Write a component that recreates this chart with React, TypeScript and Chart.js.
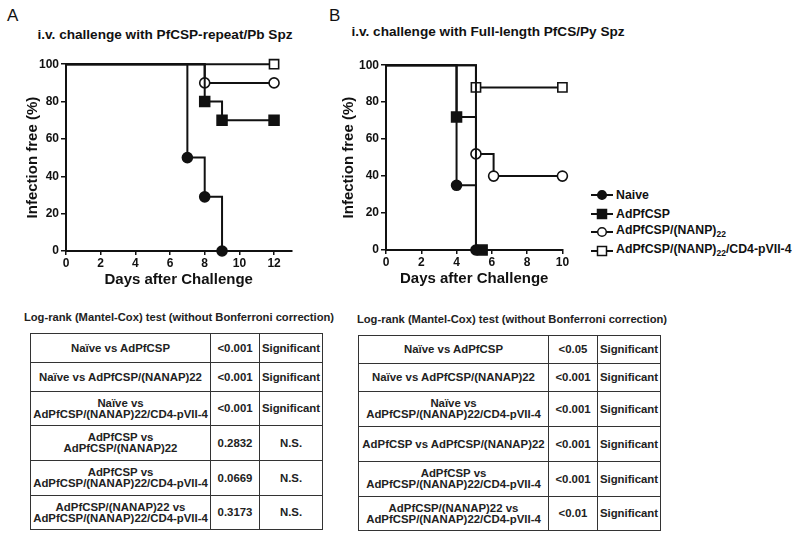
import React, { useEffect, useRef } from 'react';
import { Chart, registerables } from 'chart.js';

Chart.register(...registerables);

const FONT = '"Liberation Sans", Arial, Helvetica, sans-serif';
const INK = '#111';

// ---------- data ----------
const SERIES_NAMES = ['Naive', 'AdPfCSP', 'AdPfCSP/(NANP)22', 'AdPfCSP/(NANP)22/CD4-pVII-4'];
const Y_TICKS = [0, 20, 40, 60, 80, 100];

// Panel A: i.v. challenge with PfCSP-repeat/Pb Spz
const A_X_TICKS = [0, 2, 4, 6, 8, 10, 12];
const A_X_MAX = 13;
const A_NAIVE_X = [0, 7, 8, 9];
const A_NAIVE_Y = [100, 50, 29, 0];
const A_NAIVE_MARK = [0, 1, 1, 1];
const A_ADPFCSP_X = [0, 8, 9, 12];
const A_ADPFCSP_Y = [100, 80, 70, 70];
const A_ADPFCSP_MARK = [0, 1, 1, 1];
const A_NANP_X = [0, 8, 12];
const A_NANP_Y = [100, 90, 90];
const A_NANP_MARK = [0, 1, 1];
const A_CD4_X = [0, 12];
const A_CD4_Y = [100, 100];
const A_CD4_MARK = [0, 1];

// Panel B: i.v. challenge with Full-length PfCS/Py Spz
const B_X_TICKS = [0, 2, 4, 6, 8, 10];
const B_X_MAX = 10;
const B_NAIVE_X = [0, 4, 5.1];
const B_NAIVE_Y = [100, 35, 0];
const B_NAIVE_MARK = [0, 1, 1];
const B_ADPFCSP_X = [0, 4, 5.1, 5.45];
const B_ADPFCSP_Y = [100, 72, 0, 0];
const B_ADPFCSP_MARK = [0, 1, 0, 1];
const B_NANP_X = [0, 5.1, 6.1, 10];
const B_NANP_Y = [100, 52, 40, 40];
const B_NANP_MARK = [0, 1, 1, 1];
const B_CD4_X = [0, 5.1, 10];
const B_CD4_Y = [100, 88, 88];
const B_CD4_MARK = [0, 1, 1];

// Tables
const TABLE_CAPTION = 'Log-rank (Mantel-Cox) test (without Bonferroni correction)';
const A_COMPARISONS = [
  'Naïve vs AdPfCSP',
  'Naïve vs AdPfCSP/(NANAP)22',
  'Naïve vs\nAdPfCSP/(NANAP)22/CD4-pVII-4',
  'AdPfCSP vs\nAdPfCSP/(NANAP)22',
  'AdPfCSP vs\nAdPfCSP/(NANAP)22/CD4-pVII-4',
  'AdPfCSP/(NANAP)22  vs\nAdPfCSP/(NANAP)22/CD4-pVII-4',
];
const A_PVALUES = ['<0.001', '<0.001', '<0.001', '0.2832', '0.0669', '0.3173'];
const A_RESULTS = ['Significant', 'Significant', 'Significant', 'N.S.', 'N.S.', 'N.S.'];
const B_COMPARISONS = [
  'Naïve vs AdPfCSP',
  'Naïve vs AdPfCSP/(NANAP)22',
  'Naïve vs\nAdPfCSP/(NANAP)22/CD4-pVII-4',
  'AdPfCSP vs AdPfCSP/(NANAP)22',
  'AdPfCSP vs\nAdPfCSP/(NANAP)22/CD4-pVII-4',
  'AdPfCSP/(NANAP)22  vs\nAdPfCSP/(NANAP)22/CD4-pVII-4',
];
const B_PVALUES = ['<0.05', '<0.001', '<0.001', '<0.001', '<0.001', '<0.01'];
const B_RESULTS = ['Significant', 'Significant', 'Significant', 'Significant', 'Significant', 'Significant'];

// ---------- styles ----------
const STYLES = [
  { shape: 'circle', filled: true, r: 5 },
  { shape: 'rect', filled: true, r: 7 },
  { shape: 'circle', filled: false, r: 5 },
  { shape: 'rect', filled: false, r: 6.5 },
];

type Series = { x: number[]; y: number[]; mark: number[] };

function KMChart(props: {
  left: number; top: number; width: number; height: number;
  yAxisWidth: number; padRight: number; xMax: number; xTicks: number[]; series: Series[];
}) {
  const ref = useRef<HTMLCanvasElement>(null);
  useEffect(() => {
    const p = props;
    const datasets = p.series.map((s, i) => ({
      label: SERIES_NAMES[i],
      data: s.x.map((x, j) => ({ x, y: s.y[j] })),
      stepped: 'before' as const,
      borderColor: INK,
      borderWidth: 2,
      fill: false,
      pointStyle: STYLES[i].shape as any,
      pointRadius: s.mark.map((m) => (m ? STYLES[i].r : 0)),
      pointHoverRadius: s.mark.map((m) => (m ? STYLES[i].r : 0)),
      pointBackgroundColor: STYLES[i].filled ? INK : '#fff',
      pointBorderColor: INK,
      pointBorderWidth: 1.6,
      clip: false as any,
    }));
    const tickFont = { family: FONT, size: 12, weight: 'bold' as const };
    const titleFont = { family: FONT, size: 15, weight: 'bold' as const };
    const chart = new Chart(ref.current!, {
      type: 'line',
      data: { datasets },
      options: {
        animation: false,
        responsive: false,
        maintainAspectRatio: false,
        events: [],
        layout: { padding: { top: 5, right: p.padRight, left: 0, bottom: 0 } },
        plugins: { legend: { display: false }, tooltip: { enabled: false }, title: { display: false } },
        scales: {
          x: {
            type: 'linear',
            min: 0,
            max: p.xMax,
            afterBuildTicks: (s: any) => { s.ticks = p.xTicks.map((v) => ({ value: v })); },
            afterFit: (s: any) => { s.height = 38; },
            grid: { display: true, drawOnChartArea: false, drawTicks: true, tickLength: 4, color: INK, lineWidth: 1.5 },
            border: { display: true, color: INK, width: 2 },
            ticks: { color: INK, font: tickFont, padding: 1, maxRotation: 0, autoSkip: false },
            title: { display: true, text: 'Days after Challenge', color: INK, font: titleFont, padding: 0 },
          },
          y: {
            type: 'linear',
            min: 0,
            max: 100,
            afterBuildTicks: (s: any) => { s.ticks = Y_TICKS.map((v) => ({ value: v })); },
            afterFit: (s: any) => { s.width = p.yAxisWidth; },
            grid: { display: true, drawOnChartArea: false, drawTicks: true, tickLength: 5, color: INK, lineWidth: 1.5 },
            border: { display: true, color: INK, width: 2 },
            ticks: { color: INK, font: tickFont, padding: 2, autoSkip: false },
            title: { display: true, text: 'Infection free (%)', color: INK, font: titleFont, padding: 0 },
          },
        },
      },
    });
    return () => chart.destroy();
  }, []);
  return (
    <canvas
      ref={ref}
      width={props.width}
      height={props.height}
      style={{ position: 'absolute', left: props.left, top: props.top, width: props.width, height: props.height }}
    />
  );
}

function LegendMarker({ idx }: { idx: number }) {
  const st = STYLES[idx];
  return (
    <svg width={22} height={14} style={{ display: 'block' }}>
      <line x1={0} y1={7} x2={22} y2={7} stroke={INK} strokeWidth={2} />
      {st.shape === 'circle' ? (
        <circle cx={11} cy={7} r={4.3} fill={st.filled ? INK : '#fff'} stroke={INK} strokeWidth={1.5} />
      ) : (
        <rect x={6.5} y={2.5} width={9} height={9} fill={st.filled ? INK : '#fff'} stroke={INK} strokeWidth={1.5} />
      )}
    </svg>
  );
}

function LegendLabel({ text }: { text: string }) {
  const parts = text.split('22');
  const out: React.ReactNode[] = [];
  parts.forEach((p, i) => {
    out.push(<span key={'t' + i}>{p}</span>);
    if (i < parts.length - 1) out.push(<sub key={'s' + i} style={{ fontSize: 8.5, verticalAlign: -3 }}>22</sub>);
  });
  return <>{out}</>;
}

function Legend({ left, top, rowGap }: { left: number; top: number; rowGap: number }) {
  return (
    <div style={{ position: 'absolute', left, top }}>
      {SERIES_NAMES.map((name, i) => (
        <div
          key={name}
          style={{
            position: 'absolute', left: 0, top: i * rowGap, height: 14, display: 'flex', alignItems: 'center',
            whiteSpace: 'nowrap', font: `bold 12.3px ${FONT}`, color: INK,
          }}
        >
          <LegendMarker idx={i} />
          <span style={{ marginLeft: 3, lineHeight: '14px' }}><LegendLabel text={name} /></span>
        </div>
      ))}
    </div>
  );
}

function StatTable(props: {
  left: number; top: number; colWidths: number[]; rowHeights: number[];
  comparisons: string[]; pvalues: string[]; results: string[];
}) {
  const cell: React.CSSProperties = {
    border: '1.5px solid #333', padding: 0, textAlign: 'center', verticalAlign: 'middle',
    whiteSpace: 'pre-line', lineHeight: '11px',
  };
  return (
    <table
      style={{
        position: 'absolute', left: props.left, top: props.top, borderCollapse: 'collapse', tableLayout: 'fixed',
        font: `bold 11.4px ${FONT}`, color: '#222',
      }}
    >
      <colgroup>
        {props.colWidths.map((w, i) => <col key={i} style={{ width: w }} />)}
      </colgroup>
      <tbody>
        {props.comparisons.map((c, i) => (
          <tr key={i} style={{ height: props.rowHeights[i] }}>
            <td style={cell}>{c}</td>
            <td style={cell}>{props.pvalues[i]}</td>
            <td style={cell}>{props.results[i]}</td>
          </tr>
        ))}
      </tbody>
    </table>
  );
}

const abs = (left: number, top: number, extra: React.CSSProperties = {}): React.CSSProperties => ({
  position: 'absolute', left, top, whiteSpace: 'nowrap', color: INK, ...extra,
});

export default function App() {
  const seriesA: Series[] = [
    { x: A_NAIVE_X, y: A_NAIVE_Y, mark: A_NAIVE_MARK },
    { x: A_ADPFCSP_X, y: A_ADPFCSP_Y, mark: A_ADPFCSP_MARK },
    { x: A_NANP_X, y: A_NANP_Y, mark: A_NANP_MARK },
    { x: A_CD4_X, y: A_CD4_Y, mark: A_CD4_MARK },
  ];
  const seriesB: Series[] = [
    { x: B_NAIVE_X, y: B_NAIVE_Y, mark: B_NAIVE_MARK },
    { x: B_ADPFCSP_X, y: B_ADPFCSP_Y, mark: B_ADPFCSP_MARK },
    { x: B_NANP_X, y: B_NANP_Y, mark: B_NANP_MARK },
    { x: B_CD4_X, y: B_CD4_Y, mark: B_CD4_MARK },
  ];
  return (
    <div style={{ position: 'fixed', left: 0, top: 0, width: 800, height: 539, background: '#fff', overflow: 'hidden', fontFamily: FONT }}>
      <div style={abs(7, 6, { font: `17px ${FONT}` })}>A</div>
      <div style={abs(329, 6, { font: `17px ${FONT}` })}>B</div>
      <div style={abs(165, 27, { font: `bold 13.6px ${FONT}`, transform: 'translateX(-50%)' })}>
        i.v. challenge with PfCSP-repeat/Pb Spz
      </div>
      <div style={abs(488, 24, { font: `bold 13.6px ${FONT}`, transform: 'translateX(-50%)' })}>
        i.v. challenge with Full-length PfCS/Py Spz
      </div>

      <KMChart left={24} top={55} width={276} height={234} yAxisWidth={42} padRight={5} xMax={A_X_MAX} xTicks={A_X_TICKS} series={seriesA} />
      <KMChart left={340} top={56} width={231} height={232} yAxisWidth={46} padRight={8} xMax={B_X_MAX} xTicks={B_X_TICKS} series={seriesB} />

      <Legend left={591} top={188} rowGap={18.5} />

      <div style={abs(179, 311, { font: `bold 11.2px ${FONT}`, transform: 'translateX(-50%)', color: '#222' })}>{TABLE_CAPTION}</div>
      <div style={abs(512, 313, { font: `bold 11.2px ${FONT}`, transform: 'translateX(-50%)', color: '#222' })}>{TABLE_CAPTION}</div>

      <StatTable
        left={30} top={333} colWidths={[180, 49, 63]} rowHeights={[29, 29, 34, 35, 35, 34]}
        comparisons={A_COMPARISONS} pvalues={A_PVALUES} results={A_RESULTS}
      />
      <StatTable
        left={358} top={335} colWidths={[190, 49, 63]} rowHeights={[28, 28, 35, 35, 35, 34]}
        comparisons={B_COMPARISONS} pvalues={B_PVALUES} results={B_RESULTS}
      />
    </div>
  );
}
